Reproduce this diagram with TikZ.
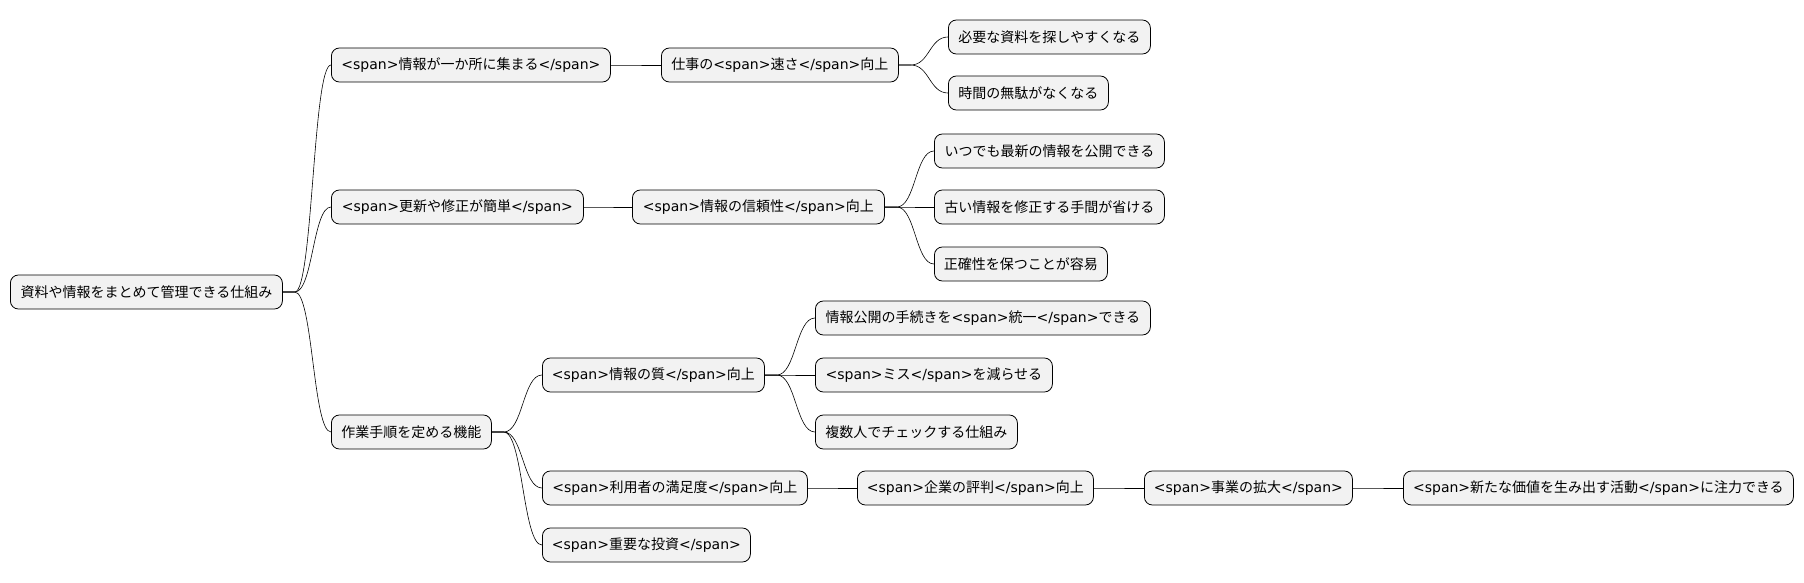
\documentclass[tikz,border=0pt]{standalone}
\usepackage{fontspec}
\setmainfont{Noto Sans CJK JP}
\newfontfamily\dv{DejaVu Sans}
\newcommand\os{{\dv <span>}}
\newcommand\cs{{\dv </span>}}
\usetikzlibrary{calc}
\begin{document}
\begin{tikzpicture}[x=1pt,y=1pt,
  n/.style={draw=black,fill=black!5,rounded corners=8pt,minimum height=34pt,inner xsep=6pt,anchor=west,font=\fontsize{14}{16}\selectfont,line width=0.8pt,minimum width=#1},
  c/.style={line width=0.6pt}]
\useasboundingbox (0,0) rectangle (1804,-583);
\node[n=272pt] (r) at (10,-292) {資料や情報をまとめて管理できる仕組み};
\node[n=279pt] (a) at (331,-65) {\os 情報が一か所に集まる\cs};
\node[n=237pt] (a1) at (661,-65) {仕事の\os 速さ\cs 向上};
\node[n=202pt] (a11) at (948,-37) {必要な資料を探しやすくなる};
\node[n=160pt] (a12) at (948,-93) {時間の無駄がなくなる};
\node[n=252pt] (b) at (331,-207) {\os 更新や修正が簡単\cs};
\node[n=252pt] (b1) at (632,-207) {\os 情報の信頼性\cs 向上};
\node[n=230pt] (b11) at (934,-151) {いつでも最新の情報を公開できる};
\node[n=230pt] (b12) at (934,-207) {古い情報を修正する手間が省ける};
\node[n=173pt] (b13) at (934,-264) {正確性を保つことが容易};
\node[n=160pt] (c) at (331,-432) {作業手順を定める機能};
\node[n=222pt] (c1) at (542,-375) {\os 情報の質\cs 向上};
\node[n=335pt] (c11) at (815,-318) {情報公開の手続きを\os 統一\cs できる};
\node[n=237pt] (c12) at (815,-375) {\os ミス\cs を減らせる};
\node[n=202pt] (c13) at (815,-432) {複数人でチェックする仕組み};
\node[n=265pt] (c2) at (542,-488) {\os 利用者の満足度\cs 向上};
\node[n=236pt] (c21) at (857,-488) {\os 企業の評判\cs 向上};
\node[n=208pt] (c22) at (1144,-488) {\os 事業の拡大\cs};
\node[n=390pt] (c23) at (1403,-488) {\os 新たな価値を生み出す活動\cs に注力できる};
\node[n=208pt] (c3) at (542,-545) {\os 重要な投資\cs};
\foreach \aa/\bb in {r/a,r/b,r/c,a/a1,a1/a11,a1/a12,b/b1,b1/b11,b1/b12,b1/b13,c/c1,c/c2,c/c3,c1/c11,c1/c12,c1/c13,c2/c21,c21/c22,c22/c23}
  \draw[c] let \p1=(\aa.east), \p2=(\bb.west), \n1={(\x1+12pt+\x2)/2} in
    (\p1) -- (\x1+12pt,\y1) .. controls (\n1,\y1) and (\n1,\y2) .. (\p2);
\end{tikzpicture}
\end{document}
